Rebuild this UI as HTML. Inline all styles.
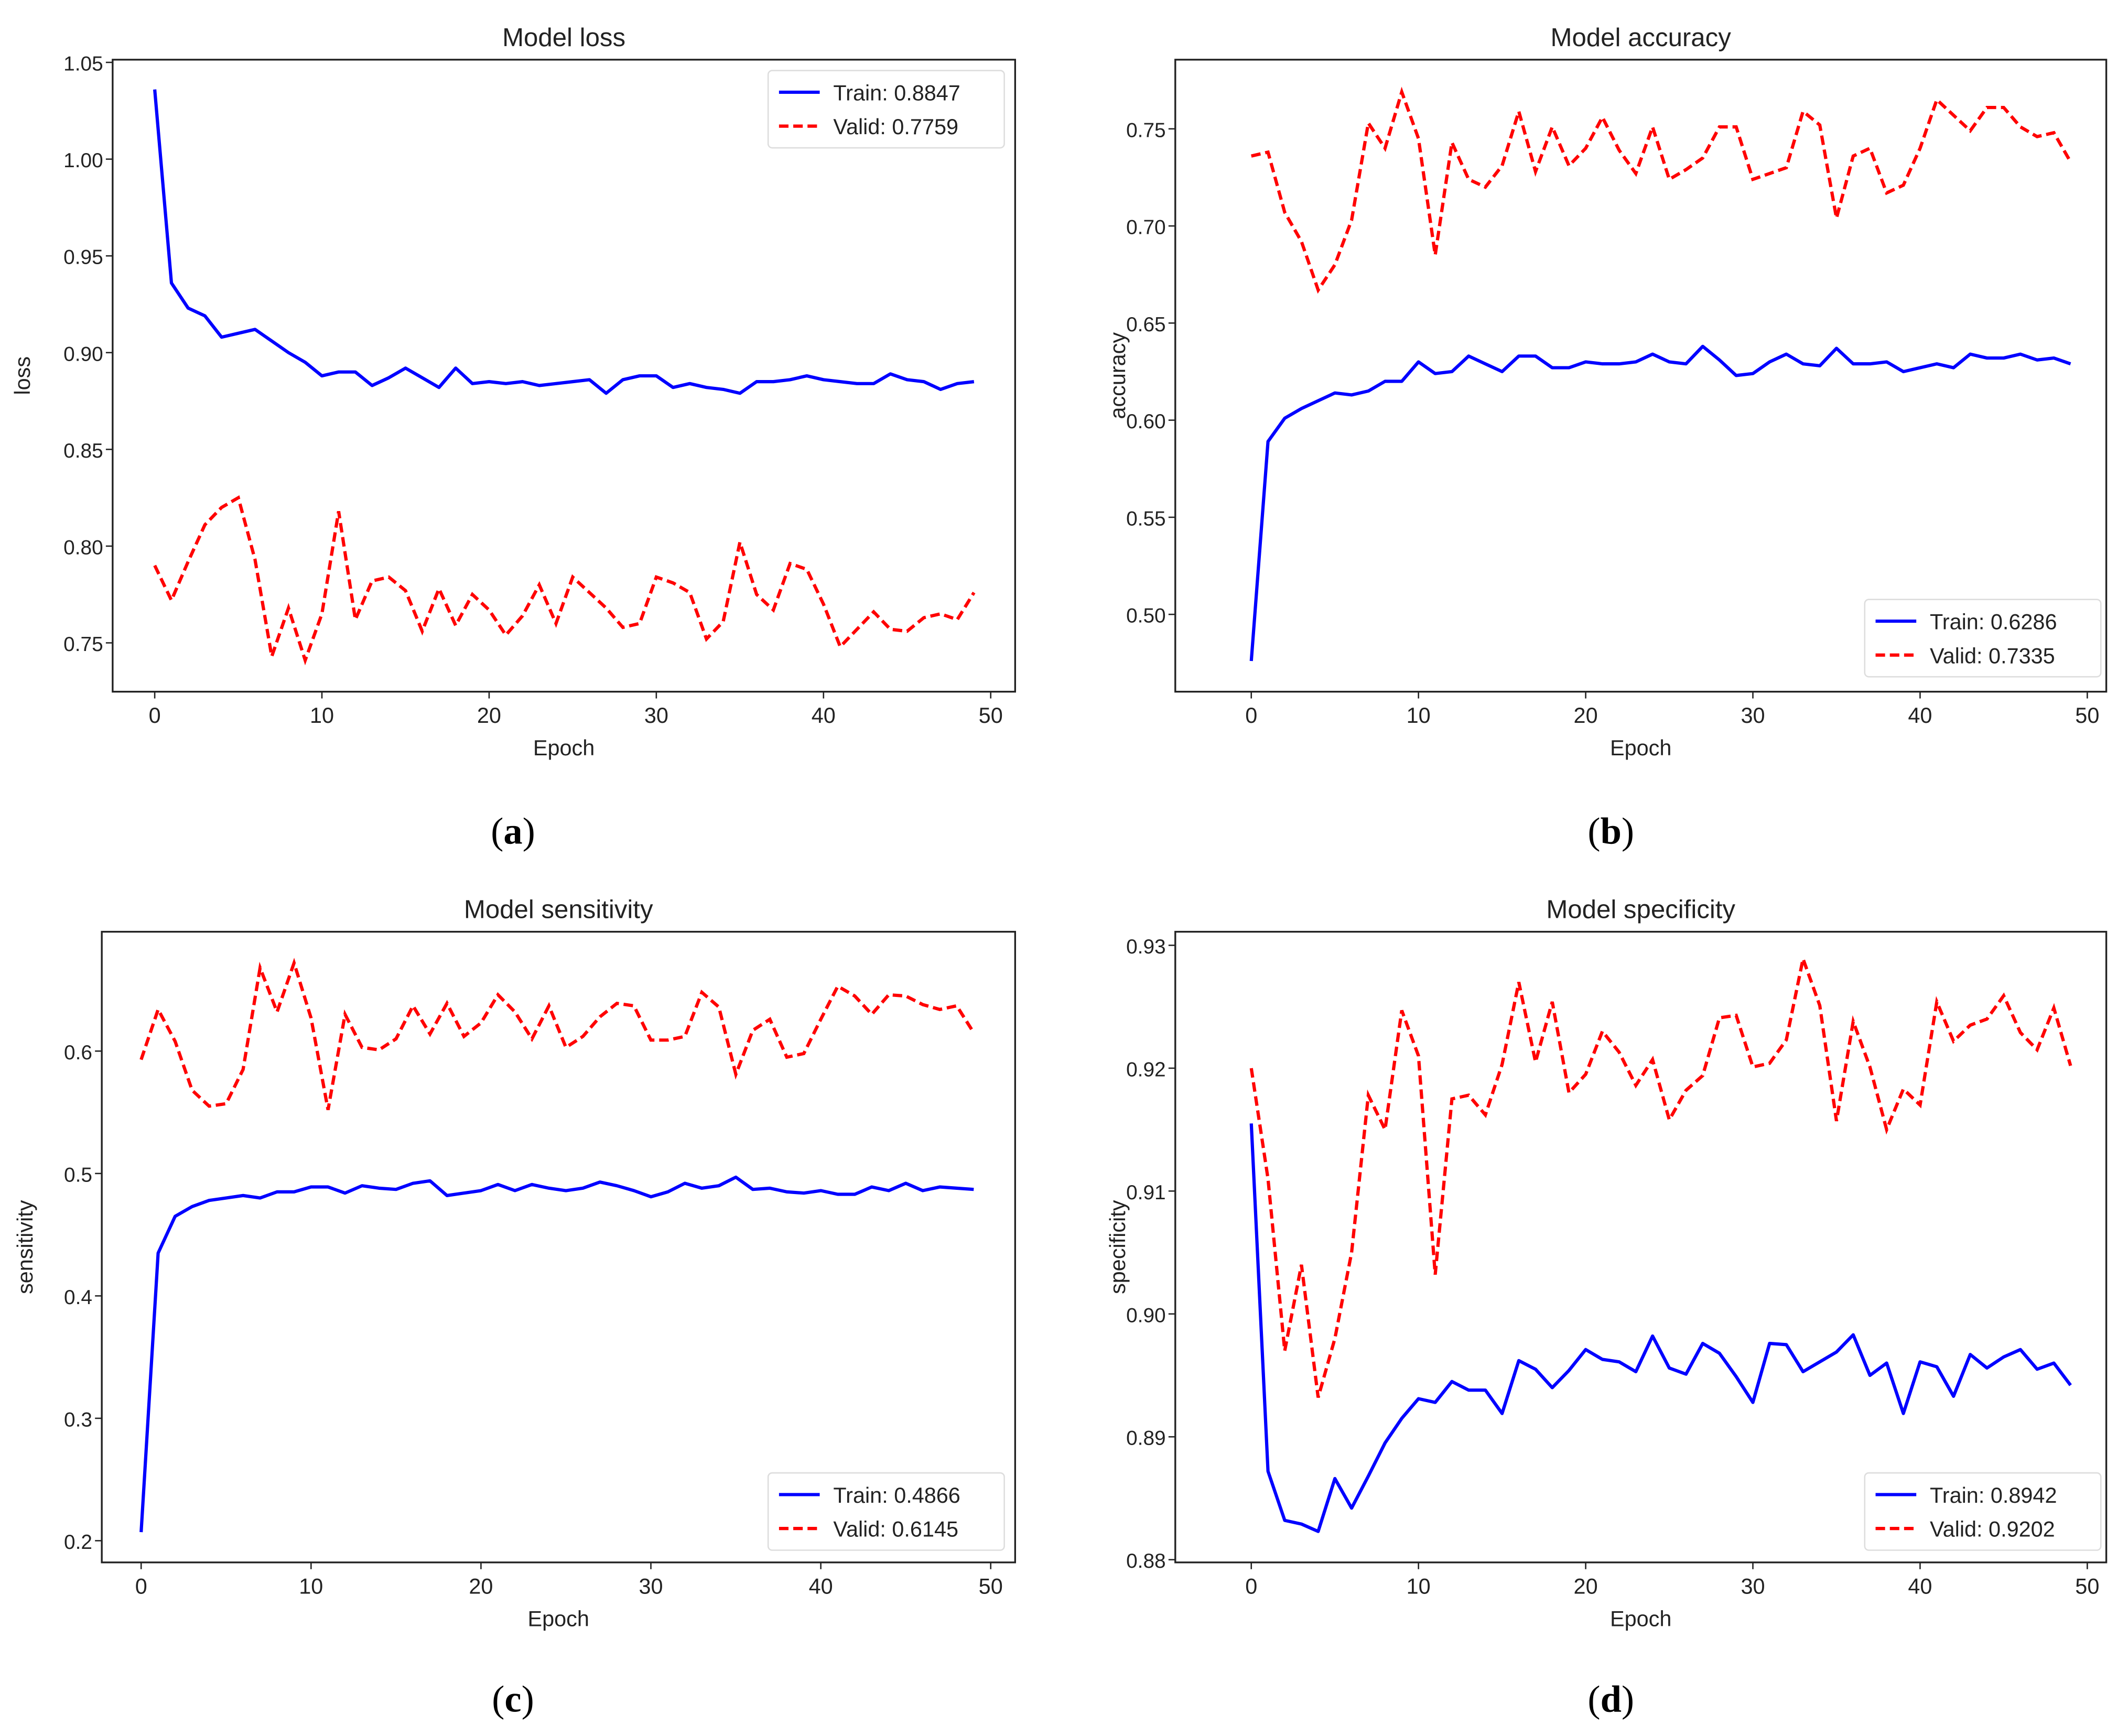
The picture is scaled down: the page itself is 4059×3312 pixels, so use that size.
<!DOCTYPE html>
<html><head><meta charset="utf-8">
<style>
html,body{margin:0;padding:0;background:#fff;}
svg{display:block;}
text{font-family:"Liberation Sans","DejaVu Sans",sans-serif;fill:#222;}
.sub{font-family:"Liberation Serif",serif;fill:#000;}
</style></head>
<body>
<svg id="fig" width="4059" height="3312" viewBox="0 0 1568 1280" preserveAspectRatio="none" xmlns="http://www.w3.org/2000/svg"></svg>
<script>
const epochs = Array.from({length:50},(_,i)=>i);
const xTicks = [0,10,20,30,40,50];

const lossTrain = [1.036,0.936,0.923,0.919,0.908,0.910,0.912,0.906,0.900,0.895,0.888,0.890,0.890,0.883,0.887,0.892,0.887,0.882,0.892,0.884,0.885,0.884,0.885,0.883,0.884,0.885,0.886,0.879,0.886,0.888,0.888,0.882,0.884,0.882,0.881,0.879,0.885,0.885,0.886,0.888,0.886,0.885,0.884,0.884,0.889,0.886,0.885,0.881,0.884,0.885];
const lossValid = [0.790,0.772,0.792,0.811,0.820,0.825,0.793,0.743,0.768,0.741,0.765,0.818,0.762,0.782,0.784,0.777,0.756,0.778,0.759,0.775,0.767,0.754,0.764,0.780,0.760,0.784,0.776,0.768,0.758,0.760,0.784,0.781,0.776,0.752,0.761,0.802,0.775,0.767,0.791,0.788,0.770,0.748,0.757,0.766,0.757,0.756,0.763,0.765,0.762,0.776];
const lossTicks = [0.75,0.80,0.85,0.90,0.95,1.00,1.05];

const accTrain = [0.476,0.589,0.601,0.606,0.610,0.614,0.613,0.615,0.620,0.620,0.630,0.624,0.625,0.633,0.629,0.625,0.633,0.633,0.627,0.627,0.630,0.629,0.629,0.630,0.634,0.630,0.629,0.638,0.631,0.623,0.624,0.630,0.634,0.629,0.628,0.637,0.629,0.629,0.630,0.625,0.627,0.629,0.627,0.634,0.632,0.632,0.634,0.631,0.632,0.629];
const accValid = [0.736,0.738,0.707,0.692,0.667,0.680,0.703,0.753,0.740,0.769,0.745,0.685,0.743,0.724,0.720,0.731,0.759,0.728,0.751,0.731,0.740,0.756,0.739,0.727,0.751,0.724,0.729,0.735,0.751,0.751,0.724,0.727,0.730,0.759,0.752,0.704,0.736,0.740,0.717,0.721,0.740,0.765,0.757,0.749,0.761,0.761,0.751,0.746,0.748,0.733];
const accTicks = [0.50,0.55,0.60,0.65,0.70,0.75];

const senTrain = [0.207,0.435,0.465,0.473,0.478,0.480,0.482,0.480,0.485,0.485,0.489,0.489,0.484,0.490,0.488,0.487,0.492,0.494,0.482,0.484,0.486,0.491,0.486,0.491,0.488,0.486,0.488,0.493,0.490,0.486,0.481,0.485,0.492,0.488,0.490,0.497,0.487,0.488,0.485,0.484,0.486,0.483,0.483,0.489,0.486,0.492,0.486,0.489,0.488,0.487];
const senValid = [0.593,0.634,0.608,0.568,0.555,0.557,0.585,0.668,0.632,0.672,0.627,0.552,0.630,0.603,0.601,0.610,0.637,0.614,0.639,0.612,0.623,0.646,0.632,0.610,0.637,0.603,0.612,0.628,0.639,0.637,0.609,0.609,0.612,0.648,0.636,0.581,0.617,0.626,0.595,0.598,0.626,0.653,0.645,0.630,0.646,0.645,0.638,0.634,0.637,0.615];
const senTicks = [0.2,0.3,0.4,0.5,0.6];

const speTrain = [0.9155,0.8872,0.8832,0.8829,0.8823,0.8866,0.8842,0.8868,0.8895,0.8915,0.8931,0.8928,0.8945,0.8938,0.8938,0.8919,0.8962,0.8955,0.8940,0.8954,0.8971,0.8963,0.8961,0.8953,0.8982,0.8956,0.8951,0.8976,0.8968,0.8949,0.8928,0.8976,0.8975,0.8953,0.8961,0.8969,0.8983,0.8950,0.8960,0.8919,0.8961,0.8957,0.8933,0.8967,0.8956,0.8965,0.8971,0.8955,0.8960,0.8942];
const speValid = [0.9200,0.9110,0.8970,0.9040,0.8932,0.8980,0.9050,0.9178,0.9150,0.9247,0.9210,0.9032,0.9175,0.9178,0.9162,0.9203,0.9270,0.9205,0.9254,0.9180,0.9195,0.9230,0.9213,0.9186,0.9207,0.9158,0.9182,0.9194,0.9241,0.9243,0.9201,0.9204,0.9223,0.9289,0.9251,0.9157,0.9238,0.9201,0.9150,0.9183,0.9170,0.9254,0.9222,0.9235,0.9240,0.9259,0.9229,0.9215,0.9249,0.9202];
const speTicks = [0.88,0.89,0.90,0.91,0.92,0.93];

const NS = "http://www.w3.org/2000/svg";
const svg = document.getElementById('fig');
function mk(tag, attrs, parent){
  const e = document.createElementNS(NS, tag);
  for (const k in attrs) e.setAttribute(k, attrs[k]);
  (parent||svg).appendChild(e);
  return e;
}

function panel(cfg){
  const g = mk('g', {});
  
  
  const {L,R,T,B,x0,x50,yA,vA,yB,vB} = cfg;
  const sx = v => x0 + (x50 - x0) * v / 50;
  const sy = v => yA + (yB - yA) * (v - vA) / (vB - vA);
  const t = mk('text', {x:(L+R)/2, y:T-10, 'text-anchor':'middle', 'font-size':19}, g);
  t.textContent = cfg.title;
  
  
  const ptsT = epochs.map(i => sx(i).toFixed(2)+','+sy(cfg.train[i]).toFixed(2)).join(' ');
  const ptsV = epochs.map(i => sx(i).toFixed(2)+','+sy(cfg.valid[i]).toFixed(2)).join(' ');
  const lt = mk('polyline', {points:ptsT, fill:'none', stroke:'#0000ff', 'stroke-width':2.4, 'stroke-linejoin':'round'}, g);
  
  
  const lv = mk('polyline', {points:ptsV, fill:'none', stroke:'#ff0000', 'stroke-width':2.4, 'stroke-dasharray':'7,3.5'}, g);
  
  
  const fr = mk('rect', {x:L, y:T, width:R-L, height:B-T, fill:'none', stroke:'#222', 'stroke-width':1.3}, g);
  
  
  xTicks.forEach(v => {
    mk('line', {x1:sx(v), x2:sx(v), y1:B, y2:B+5, stroke:'#222', 'stroke-width':1}, g);
    const tx = mk('text', {x:sx(v), y:B+23, 'text-anchor':'middle', 'font-size':16}, g);
    tx.textContent = v;
    
    
  });
  cfg.ticks.forEach(v => {
    mk('line', {x1:L-5, x2:L, y1:sy(v), y2:sy(v), stroke:'#222', 'stroke-width':1}, g);
    const ty = mk('text', {x:L-7, y:sy(v)+6, 'text-anchor':'end', 'font-size':15}, g);
    ty.textContent = v.toFixed(cfg.dec);
    
    
  });
  const xl = mk('text', {x:(L+R)/2, y:B+47, 'text-anchor':'middle', 'font-size':16}, g);
  xl.textContent = 'Epoch';
  
  
  const yl = mk('text', {x:cfg.ylx, y:(T+B)/2, 'text-anchor':'middle', 'font-size':16, transform:'rotate(-90 '+cfg.ylx+' '+(T+B)/2+')'}, g);
  yl.textContent = cfg.ylabel;
  
  
  const lg = mk('g', {}, g);
  
  
  const [lx, ly] = cfg.leg;
  mk('rect', {x:lx, y:ly, width:174, height:57, rx:3, fill:'#fff', 'fill-opacity':0.85, stroke:'#ddd', 'stroke-width':1}, lg);
  mk('line', {x1:lx+8, x2:lx+38, y1:ly+16, y2:ly+16, stroke:'#0000ff', 'stroke-width':2.4}, lg);
  mk('line', {x1:lx+8, x2:lx+38, y1:ly+41, y2:ly+41, stroke:'#ff0000', 'stroke-width':2.4, 'stroke-dasharray':'7,3.5'}, lg);
  const e1 = mk('text', {x:lx+48, y:ly+22, 'font-size':16}, lg);
  e1.textContent = cfg.legT;
  
  
  const e2 = mk('text', {x:lx+48, y:ly+47, 'font-size':16}, lg);
  e2.textContent = cfg.legV;
  
  
  const s = mk('text', {x:cfg.subX, y:cfg.subY, 'text-anchor':'middle', 'font-size':28, class:'sub'}, g);
  s.innerHTML = '(<tspan font-weight="bold">' + cfg.sub + '</tspan>)';
  
  
}

panel({name:'loss', title:'Model loss', ylabel:'loss', L:83,R:748,T:44,B:510, x0:114,x50:730, yA:474,vA:0.75,yB:46,vB:1.05,
  train:lossTrain, valid:lossValid, ticks:lossTicks, dec:2, ylx:22, leg:[566,52], legT:'Train: 0.8847', legV:'Valid: 0.7759', sub:'a', subX:378, subY:622});
panel({name:'accuracy', title:'Model accuracy', ylabel:'accuracy', L:866,R:1552,T:44,B:510, x0:922,x50:1538, yA:453,vA:0.50,yB:95,vB:0.75,
  train:accTrain, valid:accValid, ticks:accTicks, dec:2, ylx:829, leg:[1374,442], legT:'Train: 0.6286', legV:'Valid: 0.7335', sub:'b', subX:1187, subY:622});
panel({name:'sensitivity', title:'Model sensitivity', ylabel:'sensitivity', L:75,R:748,T:687,B:1152, x0:104,x50:730, yA:1136,vA:0.2,yB:775,vB:0.6,
  train:senTrain, valid:senValid, ticks:senTicks, dec:1, ylx:24, leg:[566,1086], legT:'Train: 0.4866', legV:'Valid: 0.6145', sub:'c', subX:378, subY:1262});
panel({name:'specificity', title:'Model specificity', ylabel:'specificity', L:866,R:1552,T:687,B:1152, x0:922,x50:1538, yA:1150,vA:0.88,yB:697,vB:0.93,
  train:speTrain, valid:speValid, ticks:speTicks, dec:2, ylx:829, leg:[1374,1086], legT:'Train: 0.8942', legV:'Valid: 0.9202', sub:'d', subX:1187, subY:1262});
</script>
</body></html>
